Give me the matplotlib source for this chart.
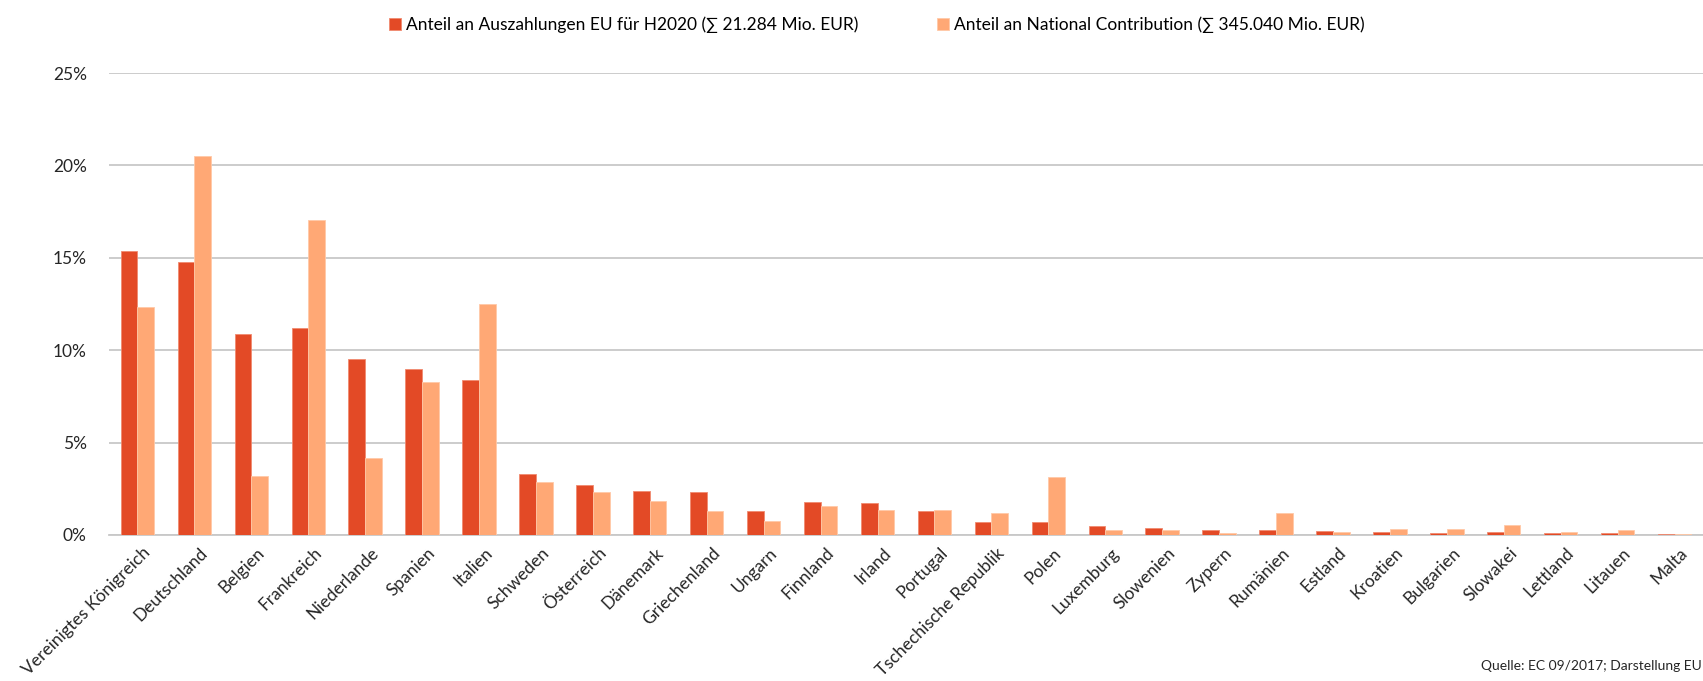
import numpy as np
import matplotlib.pyplot as plt
import matplotlib.transforms as mtransforms
from matplotlib.ticker import FuncFormatter

plt.rcParams['font.family'] = ['Lato', 'DejaVu Sans']

laender = ["Vereinigtes Königreich", "Deutschland", "Belgien", "Frankreich", "Niederlande",
           "Spanien", "Italien", "Schweden", "Österreich", "Dänemark", "Griechenland",
           "Ungarn", "Finnland", "Irland", "Portugal", "Tschechische Republik", "Polen",
           "Luxemburg", "Slowenien", "Zypern", "Rumänien", "Estland", "Kroatien",
           "Bulgarien", "Slowakei", "Lettland", "Litauen", "Malta"]

# Anteil an Auszahlungen EU fuer H2020 (%)
auszahlungen = [15.35, 14.78, 10.85, 11.2, 9.52, 9.0, 8.4, 3.3, 2.7, 2.4, 2.3,
                1.3, 1.8, 1.72, 1.3, 0.7, 0.73, 0.49, 0.4, 0.27, 0.29, 0.23, 0.16,
                0.11, 0.16, 0.09, 0.09, 0.05]
# Anteil an National Contribution (%)
national = [12.35, 20.5, 3.2, 17.05, 4.18, 8.27, 12.5, 2.88, 2.35, 1.85, 1.3,
            0.78, 1.58, 1.37, 1.37, 1.19, 3.14, 0.25, 0.27, 0.13, 1.19, 0.16, 0.32,
            0.32, 0.54, 0.17, 0.27, 0.05]

legend_labels = ["Anteil an Auszahlungen EU für H2020 (∑ 21.284 Mio. EUR)",
                 "Anteil an National Contribution (∑ 345.040 Mio. EUR)"]

rot = "#E34A26"
orange = "#FFA875"

fig = plt.figure(figsize=(17.03, 6.81), dpi=100)
ax = fig.add_axes([0.064, 0.2144, 0.936, 0.6784])

x = np.arange(len(laender))
w = 0.293
ax.bar(x - w / 2, auszahlungen, w, color=rot, edgecolor="#F08A70", linewidth=0.6,
       label=legend_labels[0], zorder=3)
ax.bar(x + w / 2, national, w, color=orange, edgecolor="#FFC9A8", linewidth=0.6,
       label=legend_labels[1], zorder=3)

ax.set_xlim(-0.5, len(laender) - 0.5)
ax.set_ylim(0, 25)
ax.set_yticks([0, 5, 10, 15, 20, 25])
ax.yaxis.set_major_formatter(FuncFormatter(lambda v, p: "%d%%" % v))
ax.grid(axis="y", color="#C8C8C8", linewidth=1.3, zorder=0)
ax.set_axisbelow(True)
for s in ["top", "right", "left"]:
    ax.spines[s].set_visible(False)
ax.spines["bottom"].set_color("#C8C8C8")
ax.spines["bottom"].set_linewidth(1.3)
ax.tick_params(axis="both", length=0, colors="#262626")
ax.tick_params(axis="y", pad=16, labelsize=12.5)
ax.set_xticks(x)
ax.set_xticklabels(laender, rotation=45, ha="right", rotation_mode="anchor", fontsize=12.5)
ax.tick_params(axis="x", pad=7)
shift = mtransforms.ScaledTranslation(5 / 100, 0, fig.dpi_scale_trans)
for lbl in ax.get_xticklabels():
    lbl.set_transform(lbl.get_transform() + shift)

fig.legend(loc="center", bbox_to_anchor=(0.515, 0.963), ncol=2, frameon=False,
           fontsize=12.5, handlelength=0.7, handleheight=0.7, handletextpad=0.3,
           columnspacing=4.5)

fig.text(0.999, 0.022, "Quelle: EC 09/2017; Darstellung EU", ha="right", va="center",
         fontsize=10, color="#262626")

plt.savefig("out.png", dpi=100)
